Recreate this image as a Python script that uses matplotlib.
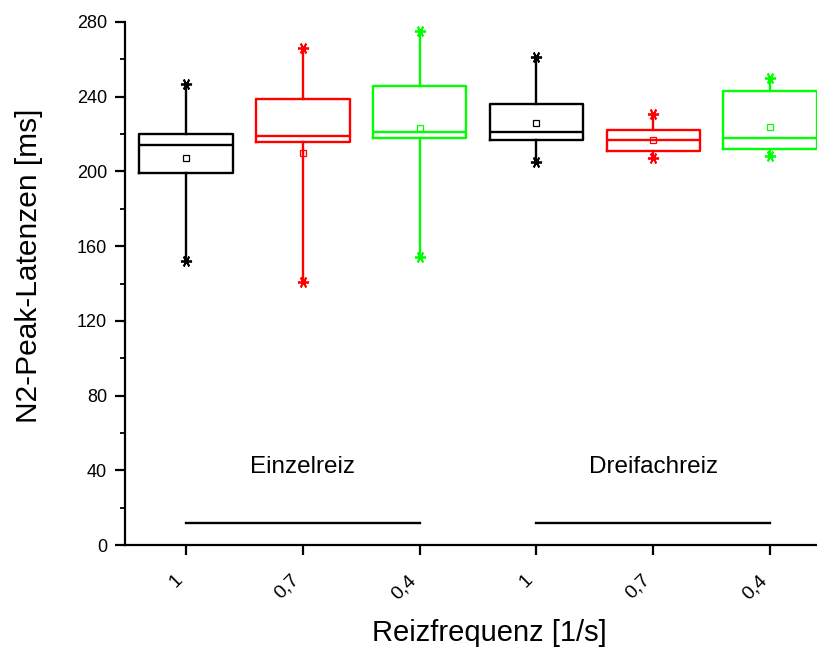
import matplotlib
matplotlib.use("Agg")
import matplotlib.pyplot as plt

plt.rcParams['font.family'] = ['Liberation Sans', 'DejaVu Sans']

positions = [1, 2, 3, 4, 5, 6]
tick_labels = ["1", "0,7", "0,4", "1", "0,7", "0,4"]
colors = ["#000000", "#FF0000", "#00FF00", "#000000", "#FF0000", "#00FF00"]

whisker_low  = [152, 141, 154, 205, 207, 208]
box_low      = [199, 216, 218, 217, 211, 212]
medians      = [214, 219, 221, 221, 217, 218]
box_high     = [220, 239, 246, 236, 222, 243]
whisker_high = [247, 266, 275, 261, 231, 250]
means        = [207, 210, 223, 226, 217, 224]

group_labels = ["Einzelreiz", "Dreifachreiz"]
group_centers = [2, 5]
group_spans = [(1, 3), (4, 6)]
group_text_y = 42
group_line_y = 12

fig = plt.figure(figsize=(8.17, 6.51), dpi=100)
ax = fig.add_axes([125/817, 1 - 545/651, 1 - 125/817, (545 - 22)/651])

for i, p in enumerate(positions):
    st = dict(med=medians[i], q1=box_low[i], q3=box_high[i],
              whislo=whisker_low[i], whishi=whisker_high[i],
              mean=means[i], fliers=[])
    c = colors[i]
    ax.bxp([st], positions=[p], widths=0.8, showcaps=False, showmeans=True,
           showfliers=False,
           boxprops=dict(color=c, linewidth=1.7),
           medianprops=dict(color=c, linewidth=1.7),
           whiskerprops=dict(color=c, linewidth=1.7),
           meanprops=dict(marker='s', markerfacecolor='none', markeredgecolor=c,
                          markersize=4, markeredgewidth=0.9),
           manage_ticks=False)
    ax.plot([p, p], [whisker_low[i], whisker_high[i]], linestyle='none',
            marker=(6, 2, 90), markersize=8, markeredgewidth=1.3, color=c,
            clip_on=False)

for lab, cx, (x0, x1) in zip(group_labels, group_centers, group_spans):
    ax.text(cx, group_text_y, lab, ha='center', va='center', fontsize=17.5)
    ax.plot([x0, x1], [group_line_y, group_line_y], color='black', linewidth=1.7)

ax.set_xlim(0.478, 6.402)
ax.set_ylim(0, 280)
ax.set_yticks(range(0, 281, 40))
ax.set_yticks(range(20, 281, 40), minor=True)
ax.set_xticks(positions)
ax.set_xticklabels(tick_labels, rotation=45, ha='right', fontsize=14)
ax.tick_params(axis='y', labelsize=13)

for s in ['top', 'right']:
    ax.spines[s].set_visible(False)
for s in ['left', 'bottom']:
    ax.spines[s].set_linewidth(1.6)

ax.tick_params(axis='both', which='major', direction='out', length=7, width=1.6)
ax.tick_params(axis='y', which='minor', direction='out', length=3.5, width=1.3)
ax.tick_params(axis='y', which='major', pad=6)
ax.tick_params(axis='x', which='major', pad=12)

ax.set_ylabel("N2-Peak-Latenzen [ms]", fontsize=21.5)
ax.yaxis.label.set_va('center')
ax.yaxis.set_label_coords(-0.139, 0.533)
ax.set_xlabel("Reizfrequenz [1/s]", fontsize=21)
ax.xaxis.label.set_va('center')
ax.xaxis.set_label_coords(0.527, -0.168)

fig.savefig("out.png", dpi=100)
